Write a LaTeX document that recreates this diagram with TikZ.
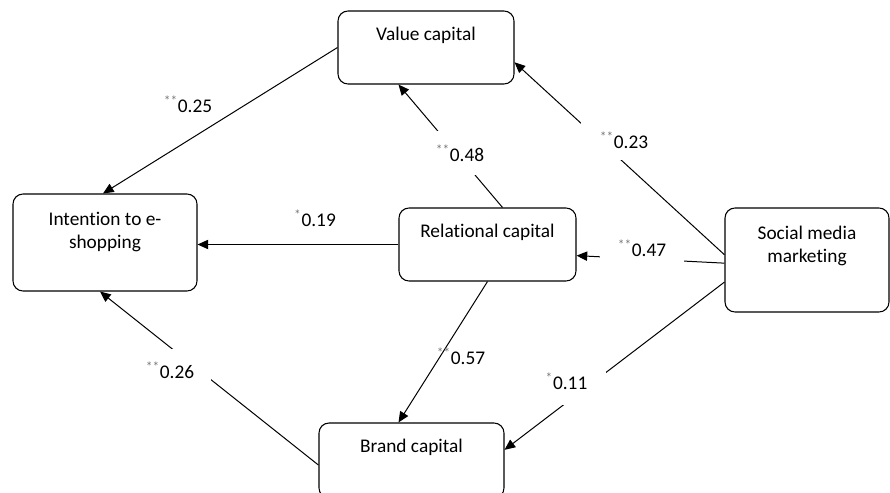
\documentclass[tikz,border=0pt]{standalone}
\usepackage{fontspec}
\setmainfont{Carlito}[Ligatures={NoCommon}]
\usetikzlibrary{arrows.meta,calc}
\definecolor{stargray}{RGB}{120,120,120}
\newcommand{\bxtext}[4]{\parbox[c][#2][t]{#1}{\centering\rule{0pt}{#3}#4}}
\newcommand{\coef}[2]{\textsuperscript{\color{stargray}#1}#2}
\begin{document}
\begin{tikzpicture}[x=0.75pt,y=-0.75pt,
  every node/.style={font=\fontsize{14.5pt}{17.7pt}\selectfont},
  cbox/.style={draw, line width=0.8pt, rounded corners=7.5pt, inner sep=0pt},
  link/.style={line width=0.75pt, -{Triangle[length=8pt,width=7pt]}},
  coefl/.style={inner sep=0pt},
  gap/.style={fill=white, inner sep=0pt}]
\useasboundingbox (0,0) rectangle (890,493);

\node[cbox] (val) at (426,47.5) {\bxtext{132pt}{54.75pt}{21.75pt}{Value capital}};
\node[cbox] (intent) at (105,242.5) {\bxtext{138pt}{72.75pt}{23.25pt}{Intention to e-\\shopping}};
\node[cbox] (rel) at (487.5,244.5) {\bxtext{132.75pt}{54.75pt}{21.75pt}{Relational capital}};
\node[cbox] (smm) at (807,260) {\bxtext{123pt}{78pt}{23.25pt}{Social media\\marketing}};
\node[cbox] (brand) at (411.5,460.5) {\bxtext{138.75pt}{56.25pt}{21.75pt}{Brand capital}};

\draw[link] (val.west) -- ($(intent.north)+(-2,0)$);
\draw[link] ($(rel.north)+(15,0)$) -- ($(val.south west)+(61,0)$);
\draw[link] ($(smm.north west)!0.45!(smm.south west)$) -- ($(val.north east)!0.7!(val.south east)$);
\draw[link] ($(smm.north west)!0.53!(smm.south west)$) -- ($(rel.north east)!0.65!(rel.south east)$);
\draw[link] (rel.west) -- (rel.west -| intent.east);
\draw[link] (rel.south) -- ($(brand.north)+(-13,0)$);
\draw[link] ($(smm.north west)!0.71!(smm.south west)$) -- ($(brand.north east)!0.36!(brand.south east)$);
\draw[link] ($(brand.north west)!0.56!(brand.south west)$) -- ($(intent.south)+(-5,0)$);

\node[coefl] (c25) at (188,104) {\coef{**}{0.25}};
\node[gap, minimum width=45pt, minimum height=33pt] (c48) at (460,153) {\coef{**}{0.48}};
\node[gap, minimum width=64.5pt, minimum height=30pt] (c23) at (624,140) {\coef{**}{0.23}};
\node[gap, minimum width=63pt, minimum height=21pt] (c47) at (642,248) {\coef{**}{0.47}};
\node[coefl] (c19) at (315,218) {\coef{*}{0.19}};
\node[coefl] (c57) at (461,356) {\coef{**}{0.57}};
\node[gap, minimum width=59.25pt, minimum height=36pt] (c11) at (566.5,381) {\coef{*}{0.11}};
\node[gap, minimum width=61.5pt, minimum height=31.5pt] (c26) at (170,370) {\coef{**}{0.26}};
\end{tikzpicture}
\end{document}
